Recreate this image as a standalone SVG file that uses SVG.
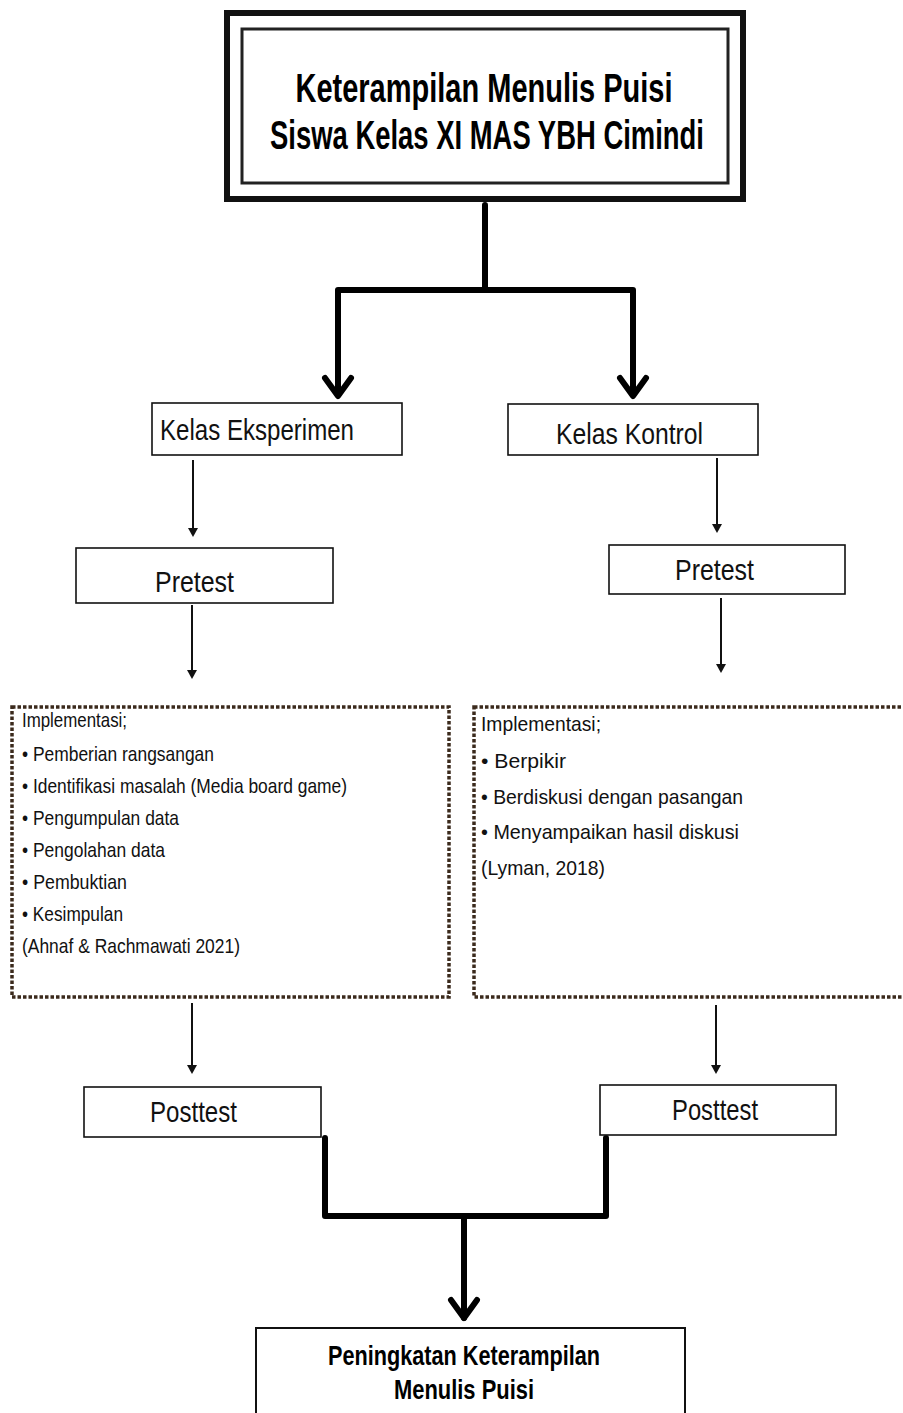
<svg xmlns="http://www.w3.org/2000/svg" width="903" height="1413" viewBox="0 0 903 1413">
<style>
.box{fill:#fff;stroke:#111;stroke-width:1.6}
.lbl{font-family:"Liberation Sans","DejaVu Sans",sans-serif;font-size:29px;fill:#111}
.ttl{font-family:"Liberation Sans","DejaVu Sans",sans-serif;font-weight:bold;fill:#000}
.itm{font-family:"Liberation Sans","DejaVu Sans",sans-serif;font-size:21px;fill:#111}
.thick{fill:none;stroke:#000;stroke-width:6;stroke-linecap:round;stroke-linejoin:round}
.thin{fill:none;stroke:#111;stroke-width:2}
.dot{fill:#fff;stroke:#3b2a1c;stroke-width:3.5;stroke-dasharray:3.5 2}
</style>
<g id="connectors">
<path class="thick" d="M485,205 V290 M338,290 H633 M338,290 V394 M633,290 V394"/>
<path class="thick" d="M325,1138 V1216 H606 V1138 M464,1216 V1318"/>
<path class="thick" d="M325,378 L338,396 L351,378 M620,378 L633,396 L646,378"/>
<path class="thick" d="M451,1300 L464,1318 L477,1300"/>
<g fill="#111">
<path class="thin" d="M193,460 V528"/><path d="M188,528 H198 L193,537 Z"/>
<path class="thin" d="M717,458 V524"/><path d="M712,524 H722 L717,533 Z"/>
<path class="thin" d="M192,605 V670"/><path d="M187,670 H197 L192,679 Z"/>
<path class="thin" d="M721,598 V664"/><path d="M716,664 H726 L721,673 Z"/>
<path class="thin" d="M192,1003 V1065"/><path d="M187,1065 H197 L192,1074 Z"/>
<path class="thin" d="M716,1005 V1065"/><path d="M711,1065 H721 L716,1074 Z"/>
</g>
</g>
<g id="title">
<rect x="227" y="13" width="516" height="186" fill="#fff" stroke="#111" stroke-width="6"/>
<rect x="242" y="29" width="486" height="154" fill="#fff" stroke="#222" stroke-width="3"/>
<text class="ttl" x="484" y="102" font-size="40" text-anchor="middle" textLength="377" lengthAdjust="spacingAndGlyphs">Keterampilan Menulis Puisi</text>
<text class="ttl" x="487" y="149" font-size="40" text-anchor="middle" textLength="434" lengthAdjust="spacingAndGlyphs">Siswa Kelas XI MAS YBH Cimindi</text>
</g>
<g id="kelas-eksperimen">
<rect class="box" x="152" y="403" width="250" height="52"/>
<text class="lbl" x="160" y="440" textLength="194" lengthAdjust="spacingAndGlyphs">Kelas Eksperimen</text>
</g>
<g id="kelas-kontrol">
<rect class="box" x="508" y="404" width="250" height="51"/>
<text class="lbl" x="556" y="444" textLength="147" lengthAdjust="spacingAndGlyphs">Kelas Kontrol</text>
</g>
<g id="pretest-left">
<rect class="box" x="76" y="548" width="257" height="55"/>
<text class="lbl" x="155" y="592" textLength="79" lengthAdjust="spacingAndGlyphs">Pretest</text>
</g>
<g id="pretest-right">
<rect class="box" x="609" y="545" width="236" height="49"/>
<text class="lbl" x="675" y="580" textLength="79" lengthAdjust="spacingAndGlyphs">Pretest</text>
</g>
<g id="impl-left">
<rect class="dot" x="12" y="707" width="437" height="290"/>
<text class="itm" x="22" y="727" textLength="105" lengthAdjust="spacingAndGlyphs">Implementasi;</text>
<text class="itm" x="22" y="761" textLength="192" lengthAdjust="spacingAndGlyphs">• Pemberian rangsangan</text>
<text class="itm" x="22" y="793" textLength="325" lengthAdjust="spacingAndGlyphs">• Identifikasi masalah (Media board game)</text>
<text class="itm" x="22" y="825" textLength="157" lengthAdjust="spacingAndGlyphs">• Pengumpulan data</text>
<text class="itm" x="22" y="857" textLength="143" lengthAdjust="spacingAndGlyphs">• Pengolahan data</text>
<text class="itm" x="22" y="889" textLength="105" lengthAdjust="spacingAndGlyphs">• Pembuktian</text>
<text class="itm" x="22" y="921" textLength="101" lengthAdjust="spacingAndGlyphs">• Kesimpulan</text>
<text class="itm" x="22" y="953" textLength="218" lengthAdjust="spacingAndGlyphs">(Ahnaf &amp; Rachmawati 2021)</text>
</g>
<g id="impl-right">
<rect class="dot" x="474" y="707" width="440" height="290"/>
<text class="itm" x="481" y="731" font-size="23" textLength="120" lengthAdjust="spacingAndGlyphs">Implementasi;</text>
<text class="itm" x="481" y="768" font-size="23" textLength="85" lengthAdjust="spacingAndGlyphs">• Berpikir</text>
<text class="itm" x="481" y="804" font-size="23" textLength="262" lengthAdjust="spacingAndGlyphs">• Berdiskusi dengan pasangan</text>
<text class="itm" x="481" y="839" font-size="23" textLength="258" lengthAdjust="spacingAndGlyphs">• Menyampaikan hasil diskusi</text>
<text class="itm" x="481" y="875" font-size="23" textLength="124" lengthAdjust="spacingAndGlyphs">(Lyman, 2018)</text>
</g>
<g id="posttest-left">
<rect class="box" x="84" y="1087" width="237" height="50"/>
<text class="lbl" x="150" y="1122" textLength="87" lengthAdjust="spacingAndGlyphs">Posttest</text>
</g>
<g id="posttest-right">
<rect class="box" x="600" y="1085" width="236" height="50"/>
<text class="lbl" x="672" y="1120" textLength="86" lengthAdjust="spacingAndGlyphs">Posttest</text>
</g>
<g id="result">
<rect x="256" y="1328" width="429" height="100" fill="#fff" stroke="#111" stroke-width="2"/>
<text class="ttl" x="464" y="1365" font-size="28" text-anchor="middle" textLength="272" lengthAdjust="spacingAndGlyphs">Peningkatan Keterampilan</text>
<text class="ttl" x="464" y="1399" font-size="28" text-anchor="middle" textLength="140" lengthAdjust="spacingAndGlyphs">Menulis Puisi</text>
</g>
</svg>
